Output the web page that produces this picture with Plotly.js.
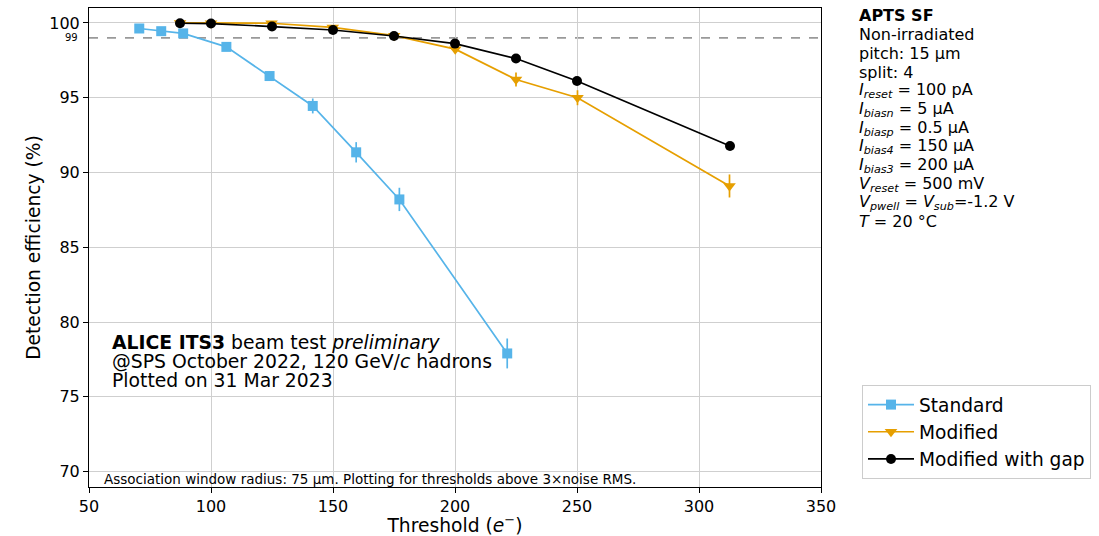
<!DOCTYPE html>
<html>
<head>
<meta charset="utf-8">
<script src="https://cdn.plot.ly/plotly-3.0.1.min.js"></script>
<style>html,body{margin:0;padding:0;background:#fff;}#chart{width:1099px;height:536px;}</style>
</head>
<body>
<div id="chart"></div>
<script>
// ---- data ----
const seriesNames = ["Standard", "Modified", "Modified with gap"];

const stdX   = [70.6, 79.6, 88.6, 106.3, 124.0, 141.7, 159.5, 177.2, 221.4];
const stdY   = [99.63, 99.45, 99.3, 98.4, 96.45, 94.45, 91.35, 88.2, 77.9];
const stdErr = [0.08, 0.08, 0.1, 0.15, 0.3, 0.5, 0.68, 0.78, 1.0];

const modX   = [87.3, 100.0, 124.8, 149.9, 175.1, 200.1, 225.0, 250.2, 312.5];
const modY   = [100.0, 99.98, 99.98, 99.7, 99.15, 98.25, 96.22, 95.0, 89.1];
const modErr = [0.05, 0.05, 0.08, 0.1, 0.12, 0.22, 0.47, 0.5, 0.77];

const gapX   = [87.3, 100.0, 125.0, 150.0, 175.0, 200.0, 225.0, 250.0, 312.7];
const gapY   = [99.98, 99.96, 99.76, 99.53, 99.13, 98.62, 97.62, 96.12, 91.77];
const gapErr = [0.05, 0.05, 0.06, 0.07, 0.08, 0.1, 0.12, 0.15, 0.2];

const refLevel = 99;
const xTicks = [50, 100, 150, 200, 250, 300, 350];
const yTicks = [70, 75, 80, 85, 90, 95, 100];

const infoLines = [
  "<b>APTS SF</b>",
  "Non-irradiated",
  "pitch: 15 µm",
  "split: 4",
  "<i>I</i><sub><i>reset</i></sub> = 100 pA",
  "<i>I</i><sub><i>biasn</i></sub> = 5 µA",
  "<i>I</i><sub><i>biasp</i></sub> = 0.5 µA",
  "<i>I</i><sub><i>bias4</i></sub> = 150 µA",
  "<i>I</i><sub><i>bias3</i></sub> = 200 µA",
  "<i>V</i><sub><i>reset</i></sub> = 500 mV",
  "<i>V</i><sub><i>pwell</i></sub> = <i>V</i><sub><i>sub</i></sub>=-1.2 V",
  "<i>T</i> = 20 °C"
];
const aliceLines = [
  "<b>ALICE ITS3</b> beam test <i>preliminary</i>",
  "@SPS October 2022, 120 GeV/<i>c</i> hadrons",
  "Plotted on 31 Mar 2023"
];
const footNote = "Association window radius: 75 µm. Plotting for thresholds above 3×noise RMS.";

// ---- styling ----
const FONT = "DejaVu Sans, sans-serif";
const colors = ["#56B4E9", "#E69F00", "#000000"];
const symbols = ["square", "triangle-down", "circle"];
const sizes = [10, 11, 10];

const W = 1099, H = 536;
const M = {l: 89, r: 278, t: 8, b: 49, autoexpand: false};
const plotW = W - M.l - M.r, plotH = H - M.t - M.b;
const px2x = p => (p - M.l) / plotW;
const px2y = p => (H - M.b - p) / plotH;

function mk(i, xs, ys, es) {
  return {
    x: xs, y: ys, name: seriesNames[i], type: "scatter", mode: "lines+markers",
    line: {color: colors[i], width: 1.7},
    marker: {color: colors[i], symbol: symbols[i], size: sizes[i], line: {width: 0}},
    error_y: {type: "data", array: es, visible: true, color: colors[i], thickness: 1.7, width: 0}
  };
}
const data = [mk(0, stdX, stdY, stdErr), mk(1, modX, modY, modErr), mk(2, gapX, gapY, gapErr)];

const annotations = [];
infoLines.forEach((t, k) => {
  annotations.push({text: t, xref: "paper", yref: "paper", x: px2x(857), y: px2y(16 + k * 18.7),
    xanchor: "left", yanchor: "middle", showarrow: false, font: {family: FONT, size: 16, color: "#000"}});
});
aliceLines.forEach((t, k) => {
  annotations.push({text: t, xref: "paper", yref: "paper", x: px2x(110), y: px2y(342 + k * 19),
    xanchor: "left", yanchor: "middle", showarrow: false, font: {family: FONT, size: 18.8, color: "#000"}});
});
annotations.push({text: footNote, xref: "paper", yref: "paper", x: px2x(102), y: px2y(479),
  xanchor: "left", yanchor: "middle", showarrow: false, font: {family: FONT, size: 13.5, color: "#000"}});
annotations.push({text: String(refLevel), xref: "paper", yref: "y", x: px2x(80), y: refLevel,
  xanchor: "right", yanchor: "middle", showarrow: false, font: {family: FONT, size: 10, color: "#000"}});

const layout = {
  width: W, height: H, margin: M,
  paper_bgcolor: "#fff", plot_bgcolor: "#fff",
  font: {family: FONT, size: 16, color: "#000"},
  showlegend: true,
  legend: {x: px2x(862), y: px2y(385), xanchor: "left", yanchor: "top",
    bgcolor: "#fff", bordercolor: "#cccccc", borderwidth: 1, itemwidth: 46,
    font: {family: FONT, size: 18.6, color: "#000"}, tracegroupgap: 0},
  xaxis: {range: [50, 350], tickvals: xTicks, ticks: "outside", ticklen: 5, tickcolor: "#000",
    showline: true, linecolor: "#000", linewidth: 1, mirror: true,
    showgrid: true, gridcolor: "#cfcfcf", gridwidth: 1, zeroline: false,
    tickfont: {family: FONT, size: 16},
    title: {text: "Threshold (<i>e</i><sup>−</sup>)", font: {family: FONT, size: 18.7}, standoff: 6}},
  yaxis: {range: [68.97, 101.0], tickvals: yTicks, ticks: "outside", ticklen: 5, tickcolor: "#000",
    showline: true, linecolor: "#000", linewidth: 1, mirror: true,
    showgrid: true, gridcolor: "#cfcfcf", gridwidth: 1, zeroline: false,
    tickfont: {family: FONT, size: 16},
    title: {text: "Detection efficiency (%)", font: {family: FONT, size: 18.7}, standoff: 3}},
  shapes: [{type: "line", xref: "paper", yref: "y", x0: 0, x1: 1, y0: refLevel, y1: refLevel,
    line: {color: "#999999", width: 1.7, dash: "dash"}, layer: "below"}],
  annotations: annotations
};

Plotly.newPlot("chart", data, layout, {displayModeBar: false, staticPlot: true});
</script>
</body>
</html>
